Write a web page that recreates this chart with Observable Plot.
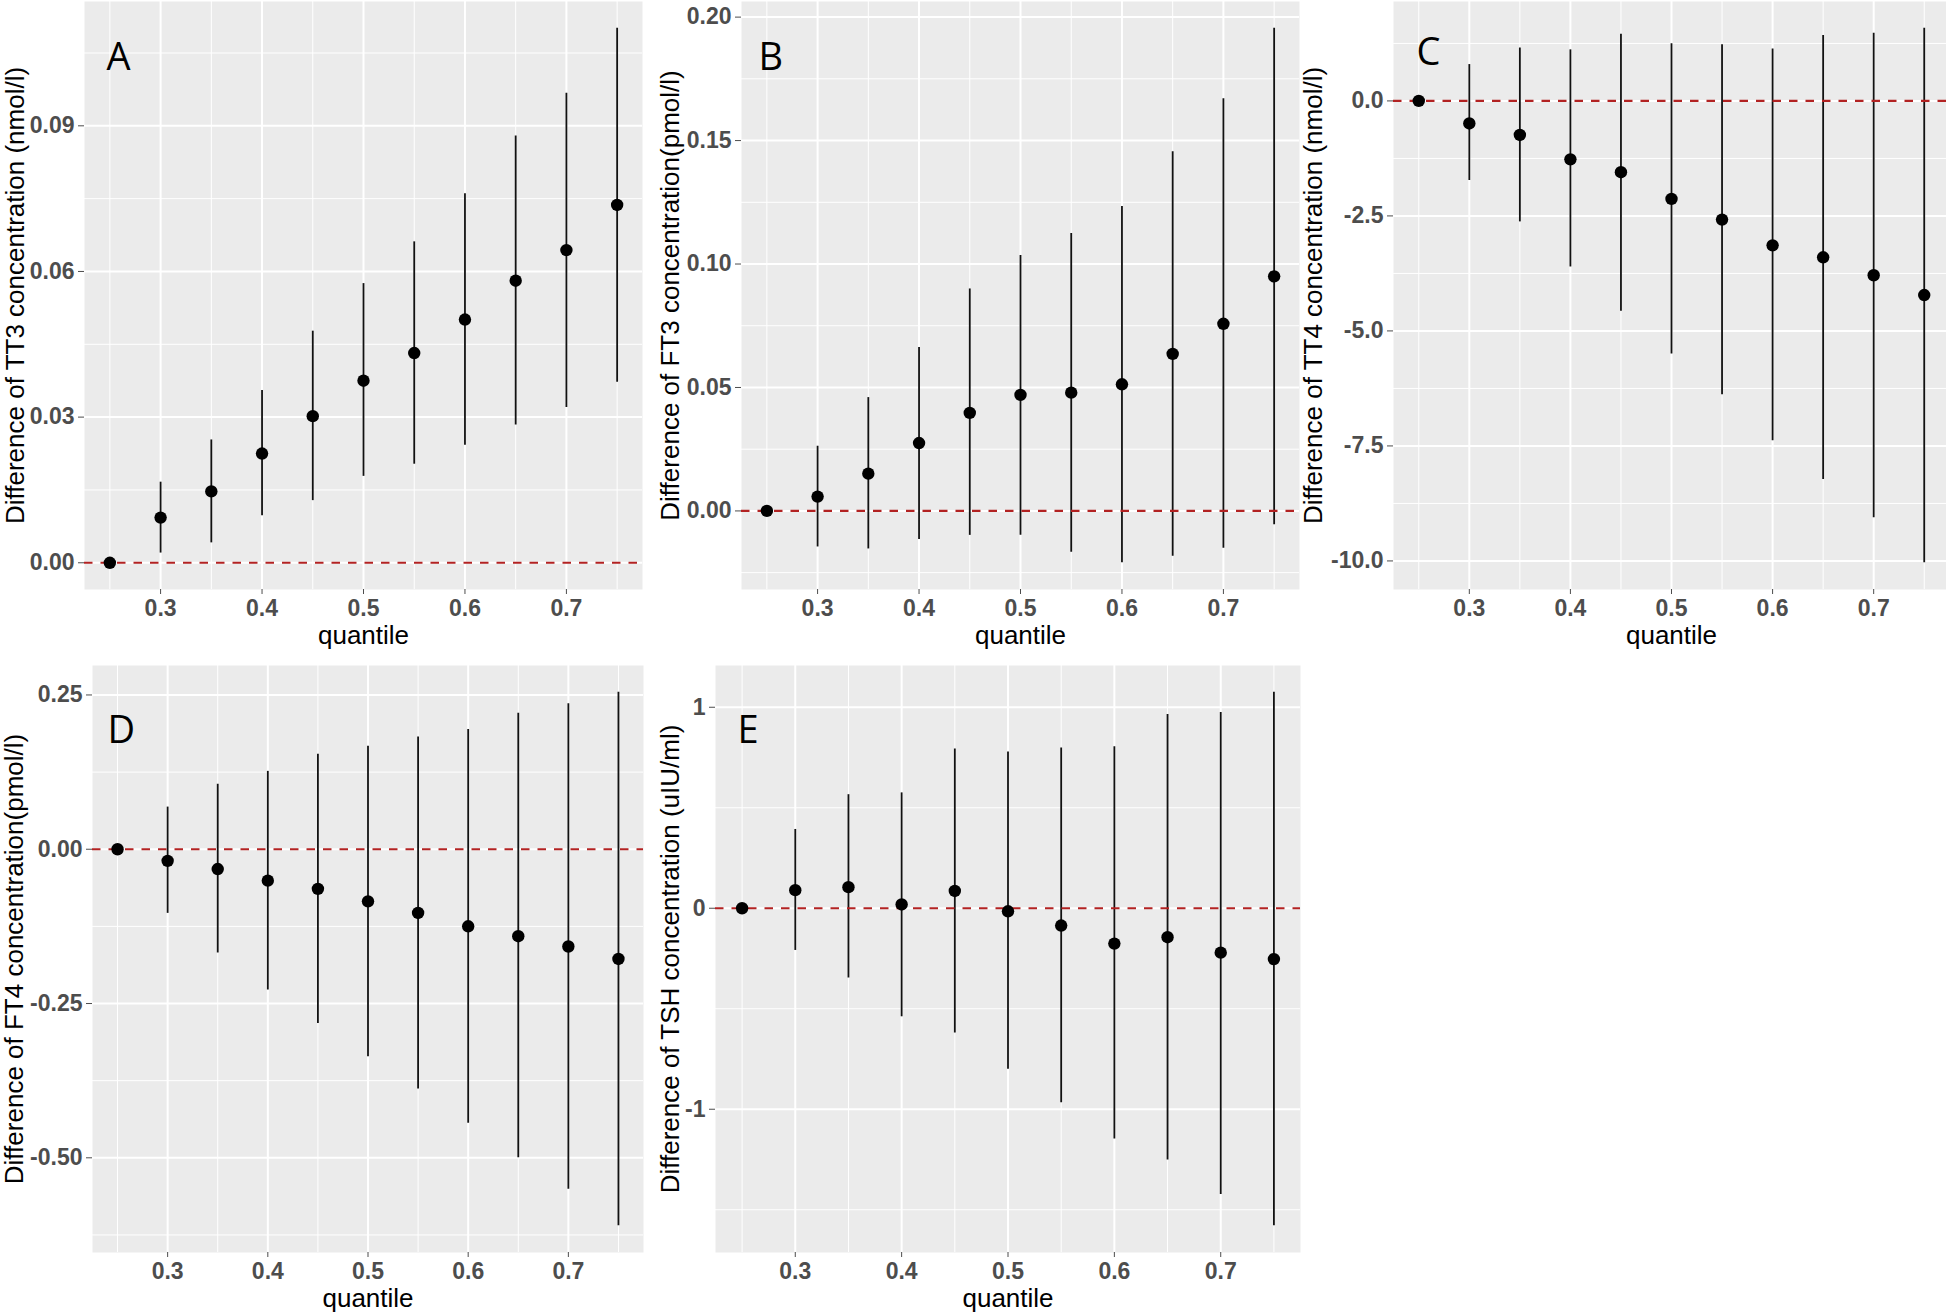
<!DOCTYPE html>
<html>
<head>
<meta charset="utf-8">
<script src="https://cdn.jsdelivr.net/npm/d3@7"></script>
<script src="https://cdn.jsdelivr.net/npm/@observablehq/plot@0.6"></script>
<style>
  html, body { margin: 0; padding: 0; background: #fff; overflow: hidden; }
  #fig { position: relative; width: 1946px; height: 1316px; background: #fff; overflow: hidden; }
</style>
</head>
<body>
<div id="fig"></div>
<script>
// ---- data ----
const quantiles = [0.25, 0.30, 0.35, 0.40, 0.45, 0.50, 0.55, 0.60, 0.65, 0.70, 0.75];

const tt3Est  = [0, 0.0093, 0.0147, 0.0225, 0.0302, 0.0375, 0.0432, 0.0501, 0.0581, 0.0644, 0.0737];
const tt3Low  = [0, 0.0020, 0.0041, 0.0097, 0.0128, 0.0178, 0.0203, 0.0242, 0.0284, 0.0320, 0.0372];
const tt3High = [0, 0.0166, 0.0253, 0.0355, 0.0477, 0.0575, 0.0661, 0.0760, 0.0879, 0.0967, 0.1101];

const ft3Est  = [0, 0.0058, 0.0151, 0.0275, 0.0397, 0.0470, 0.0479, 0.0513, 0.0636, 0.0758, 0.0950];
const ft3Low  = [0, -0.0146, -0.0154, -0.0116, -0.0099, -0.0099, -0.0167, -0.0210, -0.0184, -0.0151, -0.0056];
const ft3High = [0, 0.0262, 0.0459, 0.0662, 0.0899, 0.1035, 0.1124, 0.1233, 0.1455, 0.1669, 0.1955];

const tt4Est  = [0, -0.49, -0.74, -1.27, -1.55, -2.13, -2.58, -3.14, -3.40, -3.79, -4.22];
const tt4Low  = [0, -1.73, -2.63, -3.61, -4.57, -5.50, -6.39, -7.39, -8.23, -9.06, -10.04];
const tt4High = [0, 0.79, 1.15, 1.11, 1.45, 1.24, 1.22, 1.13, 1.42, 1.47, 1.58];

const ft4Est  = [0, -0.0188, -0.0321, -0.0509, -0.0642, -0.0844, -0.1032, -0.1248, -0.1409, -0.1576, -0.1778];
const ft4Low  = [0, -0.1039, -0.1681, -0.2281, -0.2824, -0.3361, -0.3884, -0.4442, -0.5000, -0.5509, -0.6102];
const ft4High = [0, 0.0683, 0.1053, 0.1262, 0.1541, 0.1667, 0.1820, 0.1939, 0.2204, 0.2357, 0.2545];

const tshEst  = [0, 0.090, 0.105, 0.019, 0.086, -0.015, -0.086, -0.176, -0.144, -0.221, -0.253];
const tshLow  = [0, -0.210, -0.347, -0.540, -0.621, -0.801, -0.968, -1.148, -1.253, -1.424, -1.580];
const tshHigh = [0, 0.392, 0.565, 0.574, 0.792, 0.777, 0.797, 0.803, 0.964, 0.974, 1.075];

// ---- tick labels ----
const xMajorTicks = [0.3, 0.4, 0.5, 0.6, 0.7];
const xMinorTicks = [0.25, 0.35, 0.45, 0.55, 0.65, 0.75];
const tt3Ticks = [0, 0.03, 0.06, 0.09];
const tt3Minor = [0.015, 0.045, 0.075, 0.105];
const ft3Ticks = [0, 0.05, 0.10, 0.15, 0.20];
const ft3Minor = [-0.025, 0.025, 0.075, 0.125, 0.175];
const tt4Ticks = [0, -2.5, -5, -7.5, -10];
const tt4Minor = [1.25, -1.25, -3.75, -6.25, -8.75];
const ft4Ticks = [0.25, 0, -0.25, -0.5];
const ft4Minor = [0.125, -0.125, -0.375, -0.625];
const tshTicks = [1, 0, -1];
const tshMinor = [0.5, -0.5, -1.5];

const panelLetters = ["A", "B", "C", "D", "E"];
const yTitles = [
  "Difference of TT3 concentration (nmol/l)",
  "Difference of FT3 concentration(pmol/l)",
  "Difference of TT4 concentration (nmol/l)",
  "Difference of FT4 concentration(pmol/l)",
  "Difference of TSH concentration (uIU/ml)"
];
const xTitle = "quantile";

// ---- layout ----
const panels = [
  {est: tt3Est, lo: tt3Low, hi: tt3High, ticks: tt3Ticks, minor: tt3Minor, fmt: d => d.toFixed(2),
   sx: 0, sy: 0, pl: 84, pr: 642, pt: 1, pb: 589, titleX: 23, ldx: 22, ldy: 68},
  {est: ft3Est, lo: ft3Low, hi: ft3High, ticks: ft3Ticks, minor: ft3Minor, fmt: d => d.toFixed(2),
   sx: 650, sy: 0, pl: 741, pr: 1299, pt: 1, pb: 589, titleX: 678, ldx: 17, ldy: 68},
  {est: tt4Est, lo: tt4Low, hi: tt4High, ticks: tt4Ticks, minor: tt4Minor, fmt: d => d.toFixed(1),
   sx: 1296, sy: 0, pl: 1393, pr: 1949, pt: 1, pb: 589, titleX: 1321, ldx: 23, ldy: 63},
  {est: ft4Est, lo: ft4Low, hi: ft4High, ticks: ft4Ticks, minor: ft4Minor, fmt: d => d.toFixed(2),
   sx: 0, sy: 640, pl: 92, pr: 643, pt: 665, pb: 1252, titleX: 22, ldx: 15, ldy: 77},
  {est: tshEst, lo: tshLow, hi: tshHigh, ticks: tshTicks, minor: tshMinor, fmt: d => String(d),
   sx: 650, sy: 640, pl: 715, pr: 1300, pt: 665, pb: 1252, titleX: 678, ldx: 22, ldy: 77}
];

const fig = document.getElementById("fig");
const FONT = "'Liberation Sans', Arial, sans-serif";

panels.forEach((p, k) => {
  const data = quantiles.map((q, i) => ({q, est: p.est[i], lo: p.lo[i], hi: p.hi[i]}));
  const ymin = d3.min(p.lo), ymax = d3.max(p.hi);
  const pad = 0.05 * (ymax - ymin);
  const marginLeft = p.pl - p.sx;
  const marginTop = p.pt - p.sy;
  const marginRight = 2;
  const marginBottom = 62;
  const width = p.pr - p.sx + marginRight;
  const height = p.pb - p.sy + marginBottom;

  const svg = Plot.plot({
    width, height, marginLeft, marginTop, marginRight, marginBottom,
    x: {domain: [0.225, 0.775]},
    y: {domain: [ymin - pad, ymax + pad]},
    marks: [
      Plot.frame({fill: "#EBEBEB", stroke: null}),
      Plot.gridY({ticks: p.minor, stroke: "#fff", strokeOpacity: 1, strokeWidth: 1}),
      Plot.gridX({ticks: xMinorTicks, stroke: "#fff", strokeOpacity: 1, strokeWidth: 1}),
      Plot.gridY({ticks: p.ticks, stroke: "#fff", strokeOpacity: 1, strokeWidth: 2}),
      Plot.gridX({ticks: xMajorTicks, stroke: "#fff", strokeOpacity: 1, strokeWidth: 2}),
      Plot.ruleX(data, {x: "q", y1: "lo", y2: "hi", stroke: "#111", strokeWidth: 1.8}),
      Plot.ruleY([0], {stroke: "#B22222", strokeWidth: 2.2, strokeDasharray: "8.5,8"}),
      Plot.dot(data, {x: "q", y: "est", r: 6.2, fill: "#000", stroke: null}),
      Plot.axisX({ticks: xMajorTicks, tickFormat: d => d.toFixed(1), tickSize: 5, tickPadding: 5.5,
                  fontSize: 23, fontWeight: "bold", color: "#4D4D4D", label: null, fontFamily: FONT}),
      Plot.axisY({ticks: p.ticks, tickFormat: p.fmt, tickSize: 6, tickPadding: 4,
                  fontSize: 23, fontWeight: "bold", color: "#4D4D4D", label: null, fontFamily: FONT}),
      Plot.text([yTitles[k]], {text: d => d, frameAnchor: "left", rotate: -90, textAnchor: "middle",
                  lineAnchor: "bottom", dx: p.titleX - p.pl, fontSize: 26, fill: "#000", fontFamily: FONT}),
      Plot.text([xTitle], {text: d => d, frameAnchor: "bottom", textAnchor: "middle",
                  lineAnchor: "bottom", dy: 54, fontSize: 26, fill: "#000", fontFamily: FONT}),
      Plot.text([panelLetters[k]], {text: d => d, frameAnchor: "top-left", textAnchor: "start",
                  lineAnchor: "bottom", dx: p.ldx, dy: p.ldy, fontSize: 38, fill: "#000",
                  fontFamily: "'Open Sans', sans-serif"})
    ]
  });
  svg.style.position = "absolute";
  svg.style.left = p.sx + "px";
  svg.style.top = p.sy + "px";
  svg.style.background = "transparent";
  svg.style.overflow = "visible";
  svg.style.maxWidth = "none";
  svg.style.fontFamily = FONT;
  fig.appendChild(svg);
});
</script>
</body>
</html>
